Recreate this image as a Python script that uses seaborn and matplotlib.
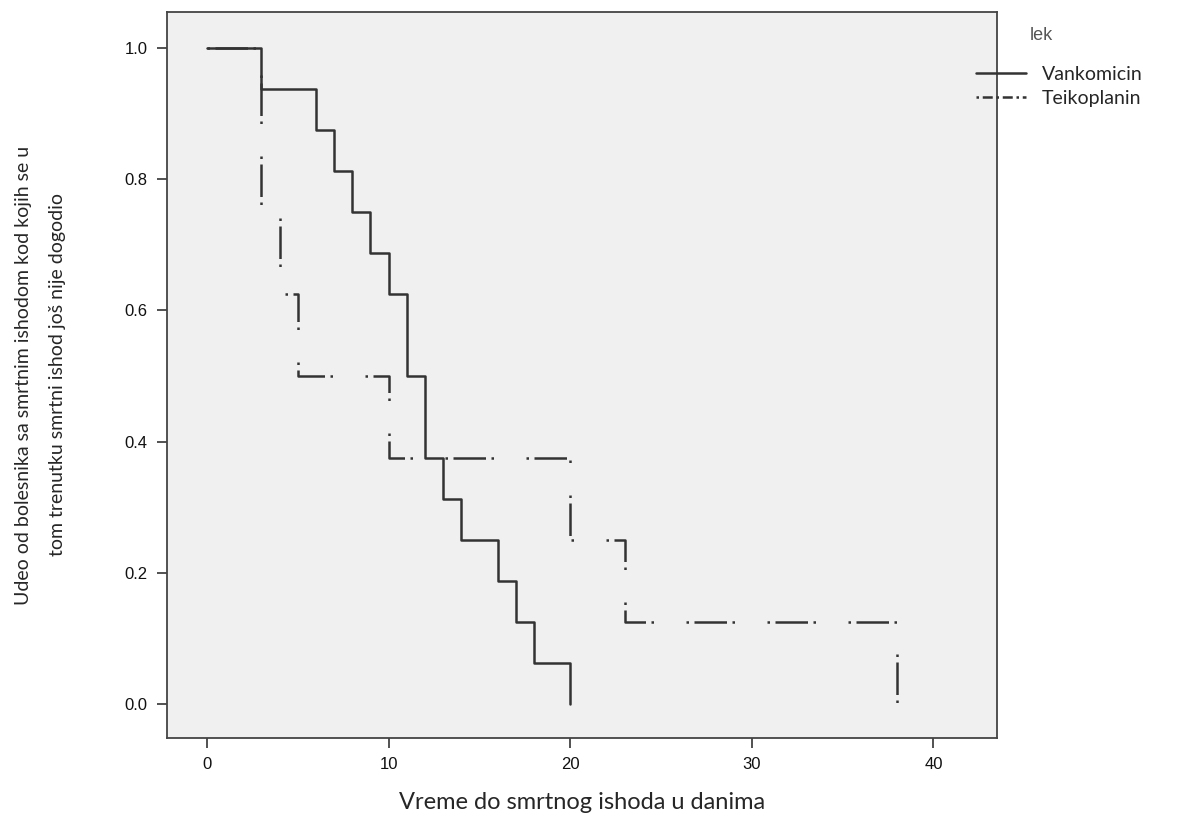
import pandas as pd
import seaborn as sns
import matplotlib.pyplot as plt

# Kaplan-Meier steps
vanko_vreme = [0, 3, 6, 7, 8, 9, 10, 11, 12, 13, 14, 16, 17, 18, 20]
vanko_udeo = [1.0, 0.9375, 0.875, 0.8125, 0.75, 0.6875, 0.625, 0.5, 0.375,
              0.3125, 0.25, 0.1875, 0.125, 0.0625, 0.0]
teiko_vreme = [0, 3, 4, 5, 10, 20, 23, 38]
teiko_udeo = [1.0, 0.75, 0.625, 0.5, 0.375, 0.25, 0.125, 0.0]
lekovi = ['Vankomicin', 'Teikoplanin']

df = pd.concat([
    pd.DataFrame({'vreme': vanko_vreme, 'udeo': vanko_udeo, 'lek': lekovi[0]}),
    pd.DataFrame({'vreme': teiko_vreme, 'udeo': teiko_udeo, 'lek': lekovi[1]}),
], ignore_index=True)

sns.set_style('ticks')
plt.rcParams['font.family'] = ['Liberation Sans', 'DejaVu Sans']

fig = plt.figure(figsize=(11.77, 8.21), dpi=100)
ax = fig.add_axes([167 / 1177, 1 - 738 / 821, (997 - 167) / 1177, (738 - 12) / 821])
ax.set_facecolor('#f0f0f0')

# Teikoplanin first so the solid line ends up on top where they overlap
sns.lineplot(data=df, x='vreme', y='udeo', style='lek', style_order=lekovi[::-1],
             dashes={'Vankomicin': '', 'Teikoplanin': (1, 2.2, 13, 2.2, 1, 13)},
             color='#333333', linewidth=1.8, drawstyle='steps-post',
             estimator=None, sort=False, ax=ax, legend=False)

ax.set_xlim(-2.2, 43.5)
ax.set_ylim(-0.052, 1.055)
ax.set_xticks([0, 10, 20, 30, 40])
ax.set_yticks([0.0, 0.2, 0.4, 0.6, 0.8, 1.0])
ax.set_yticklabels(['0.0', '0.2', '0.4', '0.6', '0.8', '1.0'])
ax.tick_params(direction='out', length=7, width=1.2, color='#333333',
               labelsize=12, labelcolor='#111111', pad=7)
for s in ax.spines.values():
    s.set_color('#444444')
    s.set_linewidth(1.3)

ax.set_xlabel('Vreme do smrtnog ishoda u danima', fontfamily='Lato',
              fontsize=17, labelpad=14)
ax.set_ylabel('Udeo od bolesnika sa smrtnim ishodom kod kojih se u\n'
              'tom trenutku smrtni ishod još nije dogodio',
              fontfamily='Lato', fontsize=14, labelpad=42, linespacing=2.2)

# legend outside on the right
handles = [plt.Line2D([], [], color='#333333', lw=1.8),
           plt.Line2D([], [], color='#333333', lw=1.8, dashes=(1, 1.5, 4, 1.5))]
fig.legend(handles, lekovi, loc='upper left',
           bbox_to_anchor=(968 / 1177, 1 - 58 / 821), frameon=False,
           handlelength=2.6, handletextpad=0.8, borderaxespad=0,
           labelspacing=0.35, prop={'family': 'Lato', 'size': 14})
fig.text(1030 / 1177, 1 - 36 / 821, 'lek', fontsize=13, color='#555555',
         va='center', ha='left')

fig.savefig('out.png', dpi=100)
